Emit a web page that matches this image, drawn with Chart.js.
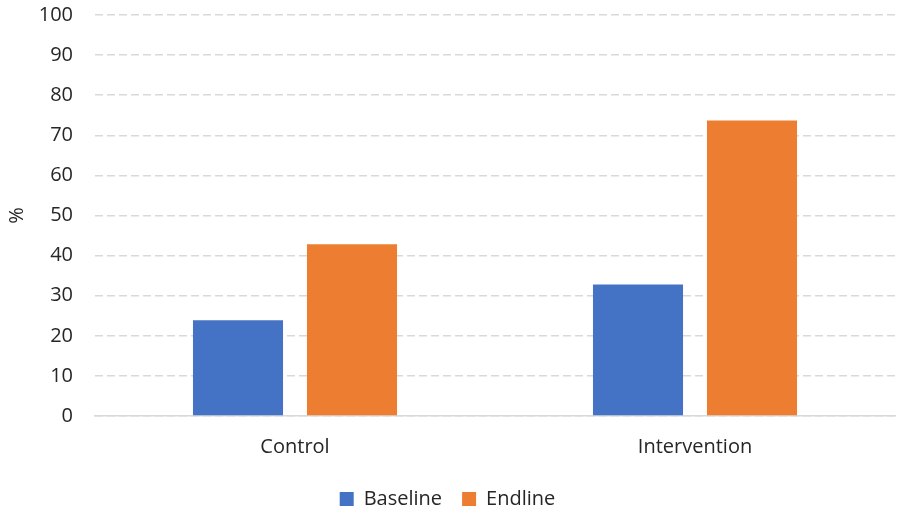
<!DOCTYPE html>
<html>
<head>
<meta charset="utf-8">
<script src="https://cdn.jsdelivr.net/npm/chart.js@4"></script>
<style>
  html, body { margin: 0; padding: 0; background: #fff; }
  #wrap { width: 897px; height: 513px; }
</style>
</head>
<body>
<div id="wrap"><canvas id="myChart"></canvas></div>
<script>
var categories = ["Control", "Intervention"],
    baseline   = [23.9, 32.8],
    endline    = [42.8, 73.7],
    yTicks     = [0, 10, 20, 30, 40, 50, 60, 70, 80, 90, 100];

var fontFamily = "'Open Sans', 'Liberation Sans', sans-serif",
    textColor  = "#262626",
    gridColor  = "#d9d9d9";

var myChart = new Chart(document.getElementById("myChart"), {
  type: 'bar',
  data: {
    labels: categories,
    datasets: [
      { label: "Baseline", data: baseline, backgroundColor: "#4472C4",
        categoryPercentage: 0.57, barPercentage: 0.79 },
      { label: "Endline", data: endline, backgroundColor: "#ED7D31",
        categoryPercentage: 0.57, barPercentage: 0.79 }
    ]
  },
  options: {
    responsive: true,
    maintainAspectRatio: false,
    animation: false,
    layout: { padding: { top: 15, right: 2, left: 0, bottom: -6 } },
    plugins: {
      legend: {
        position: 'bottom',
        labels: {
          boxWidth: 14, boxHeight: 14, padding: 20,
          color: textColor,
          font: { family: fontFamily, size: 20 }
        }
      },
      tooltip: { enabled: false }
    },
    scales: {
      x: {
        grid: { display: false, drawTicks: false },
        border: { color: gridColor, width: 1.5 },
        ticks: { color: textColor, padding: 19, font: { family: fontFamily, size: 20 } },
        afterFit: function(scale) { scale.height = 53; }
      },
      y: {
        min: 0, max: 100,
        afterBuildTicks: function(scale) {
          scale.ticks = yTicks.map(function(v) { return { value: v }; });
        },
        grid: { color: gridColor, lineWidth: 1.5, drawTicks: false },
        border: { display: false, dash: [8, 4] },
        ticks: { color: textColor, padding: 22, font: { family: fontFamily, size: 20 } },
        title: { display: true, text: "%", color: textColor, padding: { top: 5, bottom: 0 },
                 font: { family: fontFamily, size: 20 } },
        afterFit: function(scale) {
          scale.width = 95;
          scale.paddingTop = 0;
          scale.paddingBottom = 0;
        }
      }
    }
  }
});
</script>
</body>
</html>
